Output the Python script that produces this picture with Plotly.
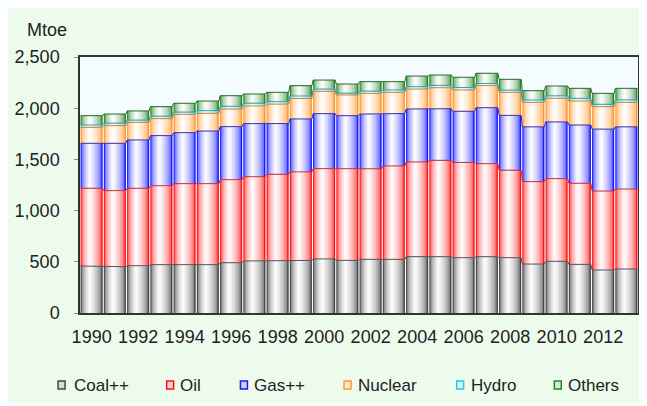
import plotly.graph_objects as go

years = list(range(1990, 2014))
coal = [459, 452, 462, 472, 472, 472, 491, 508, 508, 514, 528, 514,
        524, 524, 550, 550, 540, 550, 540, 478, 505, 475, 420, 430]
oil = [759, 743, 756, 771, 791, 791, 811, 823, 847, 864, 882, 894,
       884, 912, 925, 941, 930, 908, 855, 805, 807, 792, 771, 781]
gas = [439, 462, 472, 489, 498, 514, 518, 518, 495, 517, 537, 519,
       534, 512, 517, 504, 500, 547, 535, 535, 554, 569, 605, 607]
nuclear = [156, 173, 172, 166, 179, 173, 172, 173, 190, 200, 218, 202,
           203, 207, 195, 205, 208, 215, 225, 239, 231, 234, 219, 239]
hydro = [23, 24, 22, 24, 22, 26, 27, 27, 24, 24, 22, 18,
         22, 23, 23, 23, 24, 21, 22, 23, 24, 26, 23, 24]
others = [91, 89, 89, 93, 86, 94, 103, 90, 91, 101, 88, 89,
          92, 81, 104, 101, 100, 100, 105, 91, 96, 98, 107, 113]

series_names = ["Coal++", "Oil", "Gas++", "Nuclear", "Hydro", "Others"]
series_values = [coal, oil, gas, nuclear, hydro, others]
edge_colors = [(70, 70, 70), (255, 20, 20), (25, 25, 255),
               (255, 150, 45), (40, 200, 225), (40, 130, 40)]
line_colors = ["#555555", "#c83030", "#3030b0", "#d08030", "#30a0b0", "#2a6e2a"]

y_ticks = [0, 500, 1000, 1500, 2000, 2500]
x_ticks = list(range(1990, 2013, 2))

FONT = "Liberation Sans, Arial, sans-serif"
TXT = "#222222"
BAR_W = 0.95
N_LAYERS = 9

# plot-area geometry (px) used for placing legend/annotation in paper coords
PL, PW, PB, PH = 80, 560, 313, 256
legend_marker_x = [58, 167, 241, 345, 458, 556]
legend_text_x = [72, 178, 253, 357, 470, 568]
LEGEND_Y = 385


def mix(c, t):
    r, g, b = (int(round(ch + (255 - ch) * t)) for ch in c)
    return f"rgb({r},{g},{b})"


def px(x):
    return (x - PL) / PW


def py(y):
    return (PB - y) / PH


fig = go.Figure()

base = [0] * len(years)
for name, vals, col, lcol in zip(series_names, series_values, edge_colors, line_colors):
    for k in range(N_LAYERS):
        f = k / (N_LAYERS - 1)
        w = BAR_W * (1 - 0.88 * f)
        t = 0.97 * (f ** 0.45)
        center = -0.08 * BAR_W * f
        fig.add_trace(go.Bar(
            x=years, y=vals, base=base,
            width=[w] * len(years),
            offset=[center - w / 2] * len(years),
            marker=dict(color=mix(col, t), line=dict(width=0)),
            name=name, showlegend=False, hoverinfo="skip",
        ))
    tops = [b + v for b, v in zip(base, vals)]
    lx, ly = [], []
    for yr, tp in zip(years, tops):
        lx += [yr - BAR_W / 2, yr + BAR_W / 2]
        ly += [tp, tp]
    fig.add_trace(go.Scatter(x=lx, y=ly, mode="lines",
                             line=dict(color=lcol, width=1),
                             showlegend=False, hoverinfo="skip"))
    base = tops

shapes = []
annotations = [dict(text="Mtoe", xref="paper", yref="paper",
                    x=px(47), y=py(30), xanchor="center", yanchor="middle",
                    showarrow=False, font=dict(size=18, family=FONT, color=TXT))]
for name, col, mx, tx in zip(series_names, edge_colors, legend_marker_x, legend_text_x):
    shapes.append(dict(type="rect", xref="paper", yref="paper",
                       x0=px(mx), x1=px(mx + 7), y0=py(LEGEND_Y + 4), y1=py(LEGEND_Y - 4),
                       fillcolor=mix(col, 0.8), line=dict(color=mix(col, 0.0), width=1.5)))
    annotations.append(dict(text=name, xref="paper", yref="paper",
                            x=px(tx), y=py(LEGEND_Y), xanchor="left", yanchor="middle",
                            showarrow=False, font=dict(size=17, family=FONT, color=TXT)))

fig.update_layout(
    width=636, height=395,
    barmode="overlay",
    paper_bgcolor="#edfbed",
    plot_bgcolor="#f5fcff",
    margin=dict(l=72, r=4, t=49, b=90),
    font=dict(family=FONT, size=18, color=TXT),
    showlegend=False,
    shapes=shapes,
    annotations=annotations,
)

fig.update_xaxes(range=[1989.5, 2013.5], tickvals=x_ticks,
                 ticktext=[str(v) for v in x_ticks],
                 showgrid=False, zeroline=False,
                 showline=True, linecolor="#333333", linewidth=1.5, mirror=True,
                 ticks="", ticklabelstandoff=7,
                 tickfont=dict(size=18, family=FONT, color=TXT))
fig.update_yaxes(range=[0, 2500], tickvals=y_ticks, tickformat=",",
                 showgrid=False, zeroline=False,
                 showline=True, linecolor="#333333", linewidth=1.5, mirror=True,
                 ticks="outside", ticklen=4, tickcolor="#888888",
                 ticklabelstandoff=11,
                 tickfont=dict(size=18, family=FONT, color=TXT))

fig.write_html("out.html")
